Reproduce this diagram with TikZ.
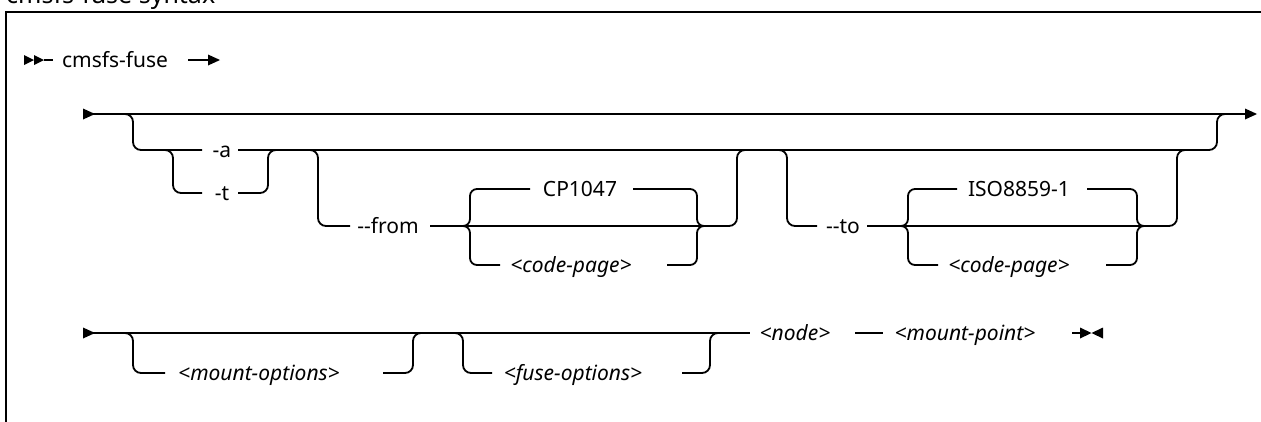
\documentclass[tikz,border=0pt]{standalone}
\usepackage{fontspec}
\setmainfont{Noto Sans}
\begin{document}
\begin{tikzpicture}[x=1pt,y=-1pt,
  ln/.style={line width=1.8pt},
  rr/.style={ln, rounded corners=8pt},
  br/.style={ln, rounded corners=7pt},
  lbl/.style={inner sep=0pt, text height=15pt, text depth=0pt, font=\fontsize{21}{25}\selectfont},
  ph/.style={lbl, font=\fontsize{21}{25}\selectfont\itshape},
  tip/.style={fill=black}]
\useasboundingbox (0,0) rectangle (1261,421);
\clip (0,0) rectangle (1261,421);
% frame and heading (cut off at the top edge, as in the reference)
\node[inner sep=0pt, anchor=base west, font=\bfseries\fontsize{25}{30}\selectfont] (hd) at (6,3) {cmsfs-fuse syntax};
\draw[line width=2.2pt] (6,440) -- (6,12) -- (1300,12);

% labels
\node[lbl] (cmd) at (115,60) {cmsfs-fuse};
\node[lbl] (a) at (222,150) {-a};
\node[lbl] (t) at (222,193) {-t};
\node[lbl] (from) at (388,226) {-{}-from};
\node[lbl] (cp) at (580,189) {CP1047};
\node[ph] (cpa) at (571,265) {<code-page>};
\node[lbl] (to) at (843,226) {-{}-to};
\node[lbl] (iso) at (1019,189) {ISO8859-1};
\node[ph] (cpb) at (1009,265) {<code-page>};
\node[ph] (mo) at (259,373) {<mount-options>};
\node[ph] (fo) at (573,373) {<fuse-options>};
\node[ph] (nd) at (795,333) {<node>};
\node[ph] (mp) at (965,333) {<mount-point>};

% row 1
\fill[tip] (24,55) -- (34,60) -- (24,65) -- cycle;
\fill[tip] (34,55) -- (44,60) -- (34,65) -- cycle;
\draw[ln] (44,60) -- (53,60);
\draw[ln] (188,60) -- (210,60);
\fill[tip] (208,54.5) -- (220,60) -- (208,65.5) -- cycle;

% row 2 main line
\fill[tip] (83,108.5) -- (95,114) -- (83,119.5) -- cycle;
\draw[ln] (83,114) -- (1247,114);
\fill[tip] (1245,108.5) -- (1257,114) -- (1245,119.5) -- cycle;

% level 2
\draw[rr] (117,114) -- (133,114) -- (133,150) -- (202,150);
\draw[rr] (238,150) -- (1217,150) -- (1217,114) -- (1232,114);
% -t
\draw[rr] (157,150) -- (173,150) -- (173,193) -- (202,193);
\draw[rr] (238,193) -- (268,193) -- (268,150) -- (284,150);
% --from
\draw[rr] (302,150) -- (318,150) -- (318,226) -- (350,226);
\draw[rr] (430,226) -- (737,226) -- (737,150) -- (753,150);
\draw[br] (458,226) -- (470,226) -- (470,189) -- (530,189);
\draw[br] (458,226) -- (470,226) -- (470,265) -- (500,265);
\draw[br] (633,189) -- (697,189) -- (697,226) -- (709,226);
\draw[br] (667,265) -- (697,265) -- (697,226) -- (709,226);
% --to
\draw[rr] (770,150) -- (787,150) -- (787,226) -- (817,226);
\draw[rr] (867,226) -- (1177,226) -- (1177,150) -- (1193,150);
\draw[br] (896,226) -- (908,226) -- (908,189) -- (957,189);
\draw[br] (896,226) -- (908,226) -- (908,265) -- (938,265);
\draw[br] (1087,189) -- (1137,189) -- (1137,226) -- (1149,226);
\draw[br] (1106,265) -- (1137,265) -- (1137,226) -- (1149,226);

% row 3
\fill[tip] (83,327.5) -- (95,333) -- (83,338.5) -- cycle;
\draw[ln] (83,333) -- (750,333);
\draw[rr] (117,333) -- (133,333) -- (133,373) -- (165,373);
\draw[rr] (383,373) -- (413,373) -- (413,333) -- (429,333);
\draw[rr] (447,333) -- (463,333) -- (463,373) -- (492,373);
\draw[rr] (682,373) -- (710,373) -- (710,333) -- (726,333);
\draw[ln] (855,333) -- (883,333);
\draw[ln] (1072,333) -- (1082,333);
\fill[tip] (1080,327.5) -- (1091.5,333) -- (1080,338.5) -- cycle;
\fill[tip] (1103,327.5) -- (1091.5,333) -- (1103,338.5) -- cycle;
\end{tikzpicture}
\end{document}
